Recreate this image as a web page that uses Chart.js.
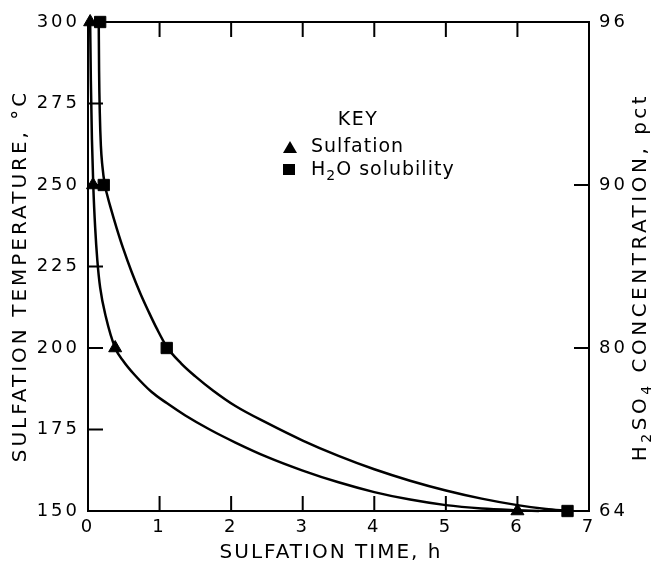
<!DOCTYPE html>
<html>
<head>
<meta charset="utf-8">
<script src="https://cdn.jsdelivr.net/npm/chart.js@4.4.1/dist/chart.umd.min.js"></script>
<style>
html,body{margin:0;padding:0;background:#fff;}
#wrap{width:655px;height:564px;}
</style>
</head>
<body>
<div id="wrap"><canvas id="c" width="655" height="564"></canvas></div>
<script>
// ---- data ----
const sulfationCurveX = [0.03, 0.04, 0.055, 0.075, 0.1, 0.13, 0.17, 0.25, 0.38, 0.5, 0.65, 0.89, 1.1, 1.36, 1.7, 2.06, 2.5, 3.0, 3.5, 4.0, 4.5, 5.0, 5.5, 6.0, 6.3];
const sulfationCurveY = [300, 282, 264, 249, 237, 227, 218.5, 209.5, 200, 195.8, 191.8, 186.5, 183.1, 179.3, 175, 171, 166.6, 162.4, 158.8, 155.8, 153.5, 151.8, 150.8, 150.25, 150];
const h2oCurveX = [0.15, 0.155, 0.165, 0.18, 0.2, 0.235, 0.27, 0.31, 0.4, 0.495, 0.61, 0.73, 0.85, 0.96, 1.1, 1.3, 1.5, 1.75, 2.06, 2.5, 3.0, 3.5, 4.0, 4.5, 5.0, 5.5, 6.0, 6.4, 6.7];
const h2oCurveY = [300, 285, 272, 262, 256, 250, 246.8, 243.5, 236.8, 230.3, 223.3, 216.8, 211, 206, 200.4, 195.3, 191.3, 186.9, 182.2, 177.0, 171.6, 166.9, 162.8, 159.3, 156.3, 153.8, 151.8, 150.6, 150.05];
const sulfationPtsX = [0.03, 0.07, 0.38, 6.0];
const sulfationPtsY = [300, 250, 200, 150];
const h2oPtsX = [0.17, 0.22, 1.1, 6.7];
const h2oPtsY = [300, 250, 200, 150];
const xTickValues = [0, 1, 2, 3, 4, 5, 6, 7];
const leftTickValues = [150, 175, 200, 225, 250, 275, 300];
const rightTickPositions = [150, 200, 250, 300];
const rightTickLabels = ['64', '80', '90', '96'];
const innerXTicks = [1, 2, 3, 4, 5, 6];
const innerLeftTicks = [175, 200, 225, 250, 275];
const innerRightTicks = [200, 250];

const zip = (xs, ys) => xs.map((x, i) => ({x: x, y: ys[i]}));
const FONT = 'DejaVu Sans';

function drawRich(ctx, segs, x, y, size, spacing) {
  ctx.letterSpacing = spacing + 'px';
  let total = 0;
  const widths = segs.map(s => {
    ctx.font = (s[1] ? Math.round(size * 0.72) : size) + 'px "' + FONT + '"';
    const w = ctx.measureText(s[0]).width;
    total += w;
    return w;
  });
  let cx = x - total / 2;
  ctx.textAlign = 'left';
  ctx.textBaseline = 'middle';
  segs.forEach((s, i) => {
    ctx.font = (s[1] ? Math.round(size * 0.72) : size) + 'px "' + FONT + '"';
    ctx.fillText(s[0], cx, s[1] ? y + size * 0.3 : y);
    cx += widths[i];
  });
  ctx.letterSpacing = '0px';
}

const framePlugin = {
  id: 'frame',
  beforeDraw(chart) {
    chart.ctx.letterSpacing = '3px';
  },
  afterDraw(chart) {
    const ctx = chart.ctx;
    const xs = chart.scales.x, ys = chart.scales.y, y2 = chart.scales.y2;
    const a = chart.chartArea;
    ctx.save();
    ctx.letterSpacing = '0px';
    ctx.strokeStyle = '#000';
    ctx.lineWidth = 2;
    ctx.beginPath();
    ctx.moveTo(xs.getPixelForValue(0), ys.getPixelForValue(300));
    ctx.lineTo(xs.getPixelForValue(7), ys.getPixelForValue(300));
    ctx.stroke();
    const L = 15;
    ctx.beginPath();
    innerXTicks.forEach(v => {
      const px = xs.getPixelForValue(v);
      ctx.moveTo(px, a.bottom); ctx.lineTo(px, a.bottom - L);
      ctx.moveTo(px, a.top); ctx.lineTo(px, a.top + L);
    });
    innerLeftTicks.forEach(v => {
      const py = ys.getPixelForValue(v);
      ctx.moveTo(a.left, py); ctx.lineTo(a.left + L, py);
    });
    innerRightTicks.forEach(v => {
      const py = y2.getPixelForValue(v);
      ctx.moveTo(a.right, py); ctx.lineTo(a.right - L, py);
    });
    ctx.stroke();

    ctx.fillStyle = '#000';
    ctx.save();
    ctx.translate(21, 276);
    ctx.rotate(-Math.PI / 2);
    drawRich(ctx, [['SULFATION TEMPERATURE, °C', false]], 0, 0, 20, 3);
    ctx.restore();

    ctx.save();
    ctx.translate(641, 277);
    ctx.rotate(-Math.PI / 2);
    drawRich(ctx, [['H', false], ['2', true], ['SO', false], ['4', true], [' CONCENTRATION, pct', false]], 0, 0, 20, 3.5);
    ctx.restore();

    drawRich(ctx, [['SULFATION TIME, h', false]], 331, 553, 20, 2);

    drawRich(ctx, [['KEY', false]], 358, 120, 19, 1.5);
    ctx.letterSpacing = '1px';
    ctx.font = '19px "' + FONT + '"';
    ctx.textAlign = 'left';
    ctx.textBaseline = 'middle';
    ctx.fillText('Sulfation', 311, 147);
    let x0 = 311;
    ctx.fillText('H', x0, 170);
    x0 += ctx.measureText('H').width;
    ctx.font = '14px "' + FONT + '"';
    ctx.fillText('2', x0, 176);
    x0 += ctx.measureText('2').width;
    ctx.font = '19px "' + FONT + '"';
    ctx.fillText('O solubility', x0, 170);
    ctx.letterSpacing = '0px';
    ctx.beginPath();
    ctx.moveTo(290, 141); ctx.lineTo(297, 153); ctx.lineTo(283, 153); ctx.closePath();
    ctx.fill();
    ctx.fillRect(283, 164, 12, 11);
    ctx.restore();
  }
};

const ctx = document.getElementById('c').getContext('2d');
new Chart(ctx, {
  type: 'scatter',
  data: {
    datasets: [
      {
        label: 'Sulfation curve', type: 'line', data: zip(sulfationCurveX, sulfationCurveY),
        borderColor: '#000', borderWidth: 2.5, pointRadius: 0, fill: false,
        cubicInterpolationMode: 'monotone', clip: false
      },
      {
        label: 'H2O solubility curve', type: 'line', data: zip(h2oCurveX, h2oCurveY),
        borderColor: '#000', borderWidth: 2.5, pointRadius: 0, fill: false,
        cubicInterpolationMode: 'monotone', clip: false
      },
      {
        label: 'Sulfation', data: zip(sulfationPtsX, sulfationPtsY),
        pointStyle: 'triangle', pointRadius: 7.5, backgroundColor: '#000', borderColor: '#000',
        borderWidth: 1, clip: false
      },
      {
        label: 'H2O solubility', data: zip(h2oPtsX, h2oPtsY),
        pointStyle: 'rect', pointRadius: 8, backgroundColor: '#000', borderColor: '#000',
        borderWidth: 1, clip: false
      }
    ]
  },
  options: {
    responsive: false,
    animation: false,
    events: [],
    layout: {padding: {top: 22, left: 0, right: 0, bottom: 0}},
    plugins: {legend: {display: false}, tooltip: {enabled: false}},
    scales: {
      x: {
        type: 'linear', position: 'bottom', min: 0, max: 7,
        afterFit: s => { s.height = 53; },
        afterBuildTicks: s => { s.ticks = xTickValues.map(v => ({value: v})); },
        grid: {display: false, drawTicks: false},
        border: {display: true, color: '#000', width: 2},
        ticks: {color: '#000', padding: 6, font: {family: FONT, size: 18}, maxRotation: 0,
                callback: v => String(v)}
      },
      y: {
        type: 'linear', position: 'left', min: 150, max: 300,
        afterFit: s => { s.width = 88; },
        afterBuildTicks: s => { s.ticks = leftTickValues.map(v => ({value: v})); },
        grid: {display: false, drawTicks: false},
        border: {display: true, color: '#000', width: 2},
        ticks: {color: '#000', padding: 8, font: {family: FONT, size: 18},
                callback: v => String(v)}
      },
      y2: {
        type: 'linear', position: 'right', min: 150, max: 300,
        afterFit: s => { s.width = 66; },
        afterBuildTicks: s => { s.ticks = rightTickPositions.map(v => ({value: v})); },
        grid: {display: false, drawTicks: false},
        border: {display: true, color: '#000', width: 2},
        ticks: {color: '#000', padding: 10, font: {family: FONT, size: 18},
                callback: v => rightTickLabels[rightTickPositions.indexOf(v)]}
      }
    }
  },
  plugins: [framePlugin]
});
</script>
</body>
</html>
